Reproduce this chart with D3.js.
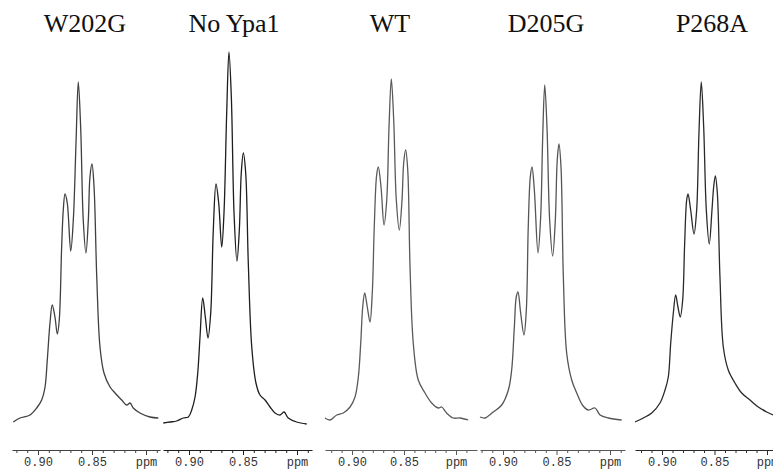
<!DOCTYPE html>
<html>
<head>
<meta charset="utf-8">
<script src="https://cdn.jsdelivr.net/npm/d3@7"></script>
<style>
	body { margin: 0; background: #fff; }
	svg { display: block; }
</style>
</head>
<body>
<div id="chart"></div>
<script>
var width = 773,
	height = 471

// sample names, one per panel
var samples = ['W202G', 'No Ypa1', 'WT', 'D205G', 'P268A']

// spectra: [ppm, intensity (a.u.)]
var w202g = [[0.9229,0],[0.9167,4],[0.9074,7],[0.9012,14],[0.8966,22],[0.8935,35],[0.8914,62],[0.8889,99],[0.8868,117],[0.8843,105],[0.8821,88],[0.8803,102],[0.8781,175],[0.8766,212],[0.8750,228],[0.8729,219],[0.8697,171],[0.8673,202],[0.8648,279],[0.8627,340],[0.8605,295],[0.8581,202],[0.8556,169],[0.8534,202],[0.8519,245],[0.8500,258],[0.8481,235],[0.8456,145],[0.8426,75],[0.8389,49],[0.8333,35],[0.8287,29],[0.8225,22],[0.8179,17],[0.8148,19],[0.8118,14],[0.8056,9],[0.7963,5],[0.7886,4]]
var noYpa1 = [[0.9238,-1],[0.9176,0],[0.9114,1],[0.9053,4],[0.9006,5],[0.8975,12],[0.8944,25],[0.8919,49],[0.8898,85],[0.8873,124],[0.8849,105],[0.8824,84],[0.8799,109],[0.8775,192],[0.8750,238],[0.8725,219],[0.8697,175],[0.8676,209],[0.8651,309],[0.8630,370],[0.8608,325],[0.8583,209],[0.8556,161],[0.8534,192],[0.8516,249],[0.8497,269],[0.8475,249],[0.8451,159],[0.8419,75],[0.8380,39],[0.8343,27],[0.8296,22],[0.8250,15],[0.8204,9],[0.8157,7],[0.8120,10],[0.8081,4],[0.8003,0],[0.7910,-2]]
var wt = [[0.9260,4],[0.9212,2],[0.9147,7],[0.9084,9],[0.9019,15],[0.8971,25],[0.8939,45],[0.8916,79],[0.8897,115],[0.8878,129],[0.8853,115],[0.8827,100],[0.8805,129],[0.8786,195],[0.8763,247],[0.8747,255],[0.8721,235],[0.8692,197],[0.8666,222],[0.8644,295],[0.8622,343],[0.8599,302],[0.8574,222],[0.8545,192],[0.8519,222],[0.8503,259],[0.8484,272],[0.8464,252],[0.8442,155],[0.8411,79],[0.8363,42],[0.8298,29],[0.8234,19],[0.8170,14],[0.8138,15],[0.8090,9],[0.8026,4],[0.7962,4],[0.7882,2]]
var d205g = [[0.9215,5],[0.9168,4],[0.9091,10],[0.9012,17],[0.8950,32],[0.8919,52],[0.8894,95],[0.8876,125],[0.8860,130],[0.8835,109],[0.8804,87],[0.8782,112],[0.8764,195],[0.8745,245],[0.8729,255],[0.8707,232],[0.8673,169],[0.8648,205],[0.8629,285],[0.8610,337],[0.8589,295],[0.8564,202],[0.8536,166],[0.8511,202],[0.8493,262],[0.8477,278],[0.8458,255],[0.8436,145],[0.8405,69],[0.8358,42],[0.8311,29],[0.8258,17],[0.8203,12],[0.8140,14],[0.8093,7],[0.8016,4],[0.7891,2]]
var p268a = [[0.9257,0],[0.9178,4],[0.9098,9],[0.9019,19],[0.8971,32],[0.8940,45],[0.8917,79],[0.8892,109],[0.8870,127],[0.8848,115],[0.8826,105],[0.8803,122],[0.8784,179],[0.8765,222],[0.8752,228],[0.8727,212],[0.8695,188],[0.8670,212],[0.8648,289],[0.8626,340],[0.8603,295],[0.8578,212],[0.8550,178],[0.8524,212],[0.8508,235],[0.8492,246],[0.8473,229],[0.8448,145],[0.8416,75],[0.8369,52],[0.8305,39],[0.8241,29],[0.8162,22],[0.8083,15],[0.8003,10],[0.7943,7]]

var spectra = [w202g, noYpa1, wt, d205g, p268a]

// axis ticks (every 0.01 ppm) and their labels
var tickValues = [0.92, 0.91, 0.90, 0.89, 0.88, 0.87, 0.86, 0.85, 0.84, 0.83, 0.82, 0.81, 0.80, 0.79]
var tickLabels = {'0.90': '0.90', '0.85': '0.85', '0.80': 'ppm'}

// each panel: axis ppm range and pixel placement
var panels = [
	{ppm: [0.9241, 0.7870], ref: [38, 146], color: '#404040', title: 85},
	{ppm: [0.9241, 0.7861], ref: [189, 297], color: '#1e1e1e', title: 234},
	{ppm: [0.9260, 0.7798], ref: [352, 456], color: '#5a5a5a', title: 390},
	{ppm: [0.9215, 0.7860], ref: [503, 610], color: '#555', title: 546},
	{ppm: [0.9257, 0.7800], ref: [662, 767], color: '#2a2a2a', title: 712}
]

var svg = d3.select('#chart').append('svg')
	.attr('width', width)
	.attr('height', height)

var y = d3.scaleLinear()
	.domain([0, 360])
	.range([422, 62])

var axisY = 450

panels.forEach(function (p, i) {
	// x scale fixed by the 0.90 and 0.80 tick positions
	var x = d3.scaleLinear()
		.domain([0.90, 0.80])
		.range(p.ref)

	var g = svg.append('g')

	g.append('text')
		.attr('x', p.title)
		.attr('y', 32)
		.attr('text-anchor', 'middle')
		.attr('font-family', '"Liberation Serif", "Times New Roman", serif')
		.attr('font-size', 26)
		.attr('fill', '#111')
		.text(samples[i])

	var line = d3.line()
		.x(function (d) { return x(d[0]); })
		.y(function (d) { return y(d[1]); })
		.curve(d3.curveCatmullRom.alpha(0.5))

	g.append('path')
		.datum(spectra[i])
		.attr('d', line)
		.attr('fill', 'none')
		.attr('stroke', p.color)
		.attr('stroke-width', 1.3)
		.attr('stroke-linejoin', 'round')

	// axis
	var xa = d3.scaleLinear()
		.domain(p.ppm)
		.range([x(p.ppm[0]), x(p.ppm[1])])

	var ticks = tickValues.filter(function (t) {
		return t <= p.ppm[0] && t >= p.ppm[1]
	})

	var axis = d3.axisBottom(xa)
		.tickValues(ticks)
		.tickSize(5)
		.tickSizeOuter(0)
		.tickPadding(2)
		.tickFormat(function (d) {
			return tickLabels[d.toFixed(2)] || ''
		})

	var ag = g.append('g')
		.attr('transform', 'translate(0,' + axisY + ')')
		.call(axis)

	ag.select('.domain')
		.attr('stroke', p.color)
		.attr('stroke-width', 1.2)

	ag.selectAll('.tick line')
		.attr('stroke', p.color)
		.attr('y2', function (d) {
			return tickLabels[d.toFixed(2)] ? 5 : 3
		})

	ag.selectAll('.tick text')
		.attr('font-family', '"Liberation Mono", "DejaVu Sans Mono", monospace')
		.attr('font-size', 12)
		.attr('fill', '#333')
})
</script>
</body>
</html>
